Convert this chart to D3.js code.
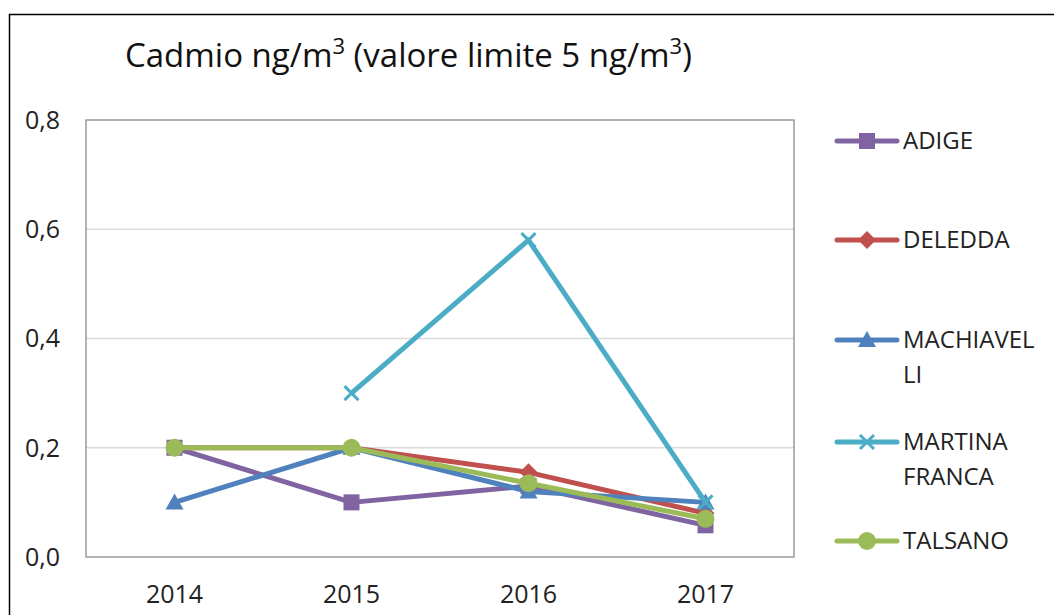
<!DOCTYPE html>
<html>
<head>
<meta charset="utf-8">
<script src="https://cdn.jsdelivr.net/npm/d3@7"></script>
<style>
  body { margin: 0; background: #fff; }
  svg { display: block; font-family: "Open Sans", sans-serif; }
</style>
</head>
<body>
<div id="chart"></div>
<script>
// data
const years = ["2014", "2015", "2016", "2017"];
const seriesNames = ["ADIGE", "DELEDDA", "MACHIAVELLI", "MARTINA FRANCA", "TALSANO"];
const adige = [0.2, 0.1, 0.13, 0.058];
const deledda = [0.2, 0.2, 0.155, 0.08];
const machiavelli = [0.1, 0.2, 0.12, 0.1];
const martinaFranca = [null, 0.3, 0.58, 0.1];
const talsano = [0.2, 0.2, 0.135, 0.07];
const yTicks = [0, 0.2, 0.4, 0.6, 0.8];
const legendLines = [["ADIGE"], ["DELEDDA"], ["MACHIAVEL", "LI"], ["MARTINA", "FRANCA"], ["TALSANO"]];

const colors = ["#8064A2", "#C0504D", "#4F81BD", "#4BACC6", "#9BBB59"];
const markers = ["square", "diamond", "triangle", "x", "circle"];
const allValues = [adige, deledda, machiavelli, martinaFranca, talsano];

const width = 1054, height = 615;
const plot = { left: 86, right: 794, top: 120, bottom: 557 };

const svg = d3.select("#chart").append("svg")
  .attr("width", width)
  .attr("height", height);

// chart frame (runs off the right and bottom edges)
svg.append("rect")
  .attr("x", 9.5).attr("y", 14.5)
  .attr("width", 1100).attr("height", 700)
  .attr("fill", "none")
  .attr("stroke", "#000")
  .attr("stroke-width", 1.5);

const x = d3.scaleBand()
  .domain(years)
  .range([plot.left, plot.right]);

const y = d3.scaleLinear()
  .domain([0, 0.8])
  .range([plot.bottom, plot.top]);

// gridlines
svg.append("g")
  .selectAll("line")
  .data(yTicks.slice(1, -1))
  .enter()
  .append("line")
  .attr("x1", plot.left).attr("x2", plot.right)
  .attr("y1", d => y(d)).attr("y2", d => y(d))
  .attr("stroke", "#d9d9d9")
  .attr("stroke-width", 1.5);

// plot area border
svg.append("rect")
  .attr("x", plot.left).attr("y", plot.top)
  .attr("width", plot.right - plot.left)
  .attr("height", plot.bottom - plot.top)
  .attr("fill", "none")
  .attr("stroke", "#9a9a9a")
  .attr("stroke-width", 1.5);

// y labels
const fmt = d => d3.format(".1f")(d).replace(".", ",");
svg.append("g")
  .selectAll("text")
  .data(yTicks)
  .enter()
  .append("text")
  .attr("x", 60)
  .attr("y", d => y(d))
  .attr("dy", "0.35em")
  .attr("text-anchor", "end")
  .attr("font-size", 25)
  .attr("fill", "#222")
  .text(fmt);

// x labels
svg.append("g")
  .selectAll("text")
  .data(years)
  .enter()
  .append("text")
  .attr("x", d => x(d) + x.bandwidth() / 2)
  .attr("y", 603)
  .attr("text-anchor", "middle")
  .attr("font-size", 25)
  .attr("fill", "#222")
  .text(d => d);

// title
const title = svg.append("text")
  .attr("x", 125)
  .attr("y", 67)
  .attr("font-size", 33)
  .attr("fill", "#111");
title.append("tspan").text("Cadmio ng/m");
title.append("tspan").attr("dy", -13).attr("font-size", 22).text("3");
title.append("tspan").attr("dy", 13).text(" (valore limite 5 ng/m");
title.append("tspan").attr("dy", -13).attr("font-size", 22).text("3");
title.append("tspan").attr("dy", 13).text(")");

function drawMarker(g, type, cx, cy, color) {
  if (type === "square") {
    g.append("rect").attr("x", cx - 8).attr("y", cy - 8).attr("width", 16).attr("height", 16).attr("fill", color);
  } else if (type === "diamond") {
    g.append("path").attr("d", `M${cx},${cy - 9}L${cx + 9},${cy}L${cx},${cy + 9}L${cx - 9},${cy}Z`).attr("fill", color);
  } else if (type === "triangle") {
    g.append("path").attr("d", `M${cx},${cy - 9}L${cx + 9},${cy + 7}L${cx - 9},${cy + 7}Z`).attr("fill", color);
  } else if (type === "x") {
    g.append("path").attr("d", `M${cx - 7},${cy - 7}L${cx + 7},${cy + 7}M${cx + 7},${cy - 7}L${cx - 7},${cy + 7}`)
      .attr("stroke", color).attr("stroke-width", 3);
  } else {
    g.append("circle").attr("cx", cx).attr("cy", cy).attr("r", 9).attr("fill", color);
  }
}

const line = d3.line()
  .defined(d => d.v !== null)
  .x(d => x(d.year) + x.bandwidth() / 2)
  .y(d => y(d.v));

allValues.forEach((vals, i) => {
  const pts = years.map((yr, j) => ({ year: yr, v: vals[j] }));
  const g = svg.append("g");
  g.append("path")
    .datum(pts)
    .attr("d", line)
    .attr("fill", "none")
    .attr("stroke", colors[i])
    .attr("stroke-width", 5)
    .attr("stroke-linejoin", "round");
  pts.filter(d => d.v !== null).forEach(d => {
    drawMarker(g, markers[i], x(d.year) + x.bandwidth() / 2, y(d.v), colors[i]);
  });
});

// legend
const legendY = [141, 240, 340, 442, 541];
seriesNames.forEach((name, i) => {
  const g = svg.append("g");
  const ly = legendY[i];
  g.append("line")
    .attr("x1", 837).attr("x2", 897)
    .attr("y1", ly).attr("y2", ly)
    .attr("stroke", colors[i])
    .attr("stroke-width", 5)
    .attr("stroke-linecap", "round");
  drawMarker(g, markers[i], 867, ly, colors[i]);
  legendLines[i].forEach((t, k) => {
    g.append("text")
      .attr("x", 903)
      .attr("y", ly + k * 35)
      .attr("dy", "0.35em")
      .attr("font-size", 24)
      .attr("fill", "#222")
      .text(t);
  });
});
</script>
</body>
</html>
